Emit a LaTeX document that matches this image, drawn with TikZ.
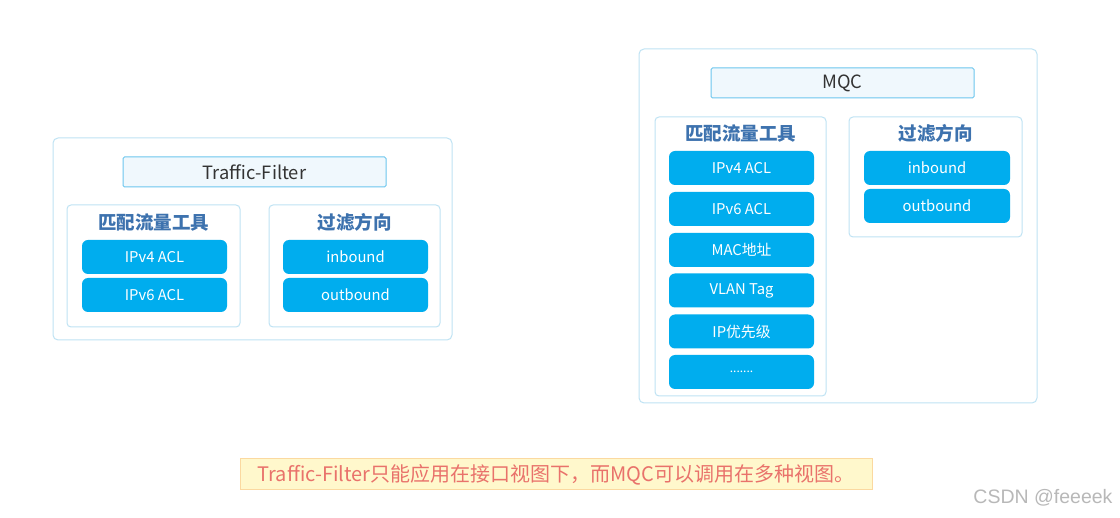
\documentclass[tikz,border=0pt]{standalone}
\usepackage{fontspec}
\setmainfont{Noto Sans CJK SC}
\newfontfamily\wmfont{Liberation Sans}
\definecolor{outerline}{HTML}{BFE3F4}
\definecolor{titlefill}{HTML}{F0F8FD}
\definecolor{titleline}{HTML}{6CC6EE}
\definecolor{bluebox}{HTML}{00ADEE}
\definecolor{headblue}{HTML}{3D72AE}
\definecolor{notefill}{HTML}{FFF8CC}
\definecolor{noteline}{HTML}{FBD9A0}
\definecolor{notetext}{HTML}{E9726B}
\tikzset{
  outerbox/.style={draw=outerline, line width=1pt, rounded corners=5pt, fill=white},
  titlebox/.style={draw=titleline, line width=1pt, rounded corners=1.5pt, fill=titlefill, font=\fontsize{18.3}{20}\selectfont, text=black!80},
  groupbox/.style={draw=outerline, line width=1pt, rounded corners=4pt},
  headtext/.style={text=headblue, font=\bfseries\fontsize{18.5}{20}\selectfont},
  item/.style={fill=bluebox, rounded corners=6pt, text=white, font=\fontsize{14.8}{16}\selectfont},
  notebox/.style={draw=noteline, fill=notefill, line width=1pt, text=notetext, font=\fontsize{20}{22}\selectfont},
}
\begin{document}
\begin{tikzpicture}[x=1pt,y=-1pt]
\useasboundingbox[fill=white] (0,0) rectangle (1120,518);
% Left panel
\draw[outerbox] (53,138) rectangle (452,340);
\node[titlebox, minimum width=263pt, minimum height=30pt] (tf) at (254.5,172) {Traffic-Filter};
\draw[groupbox] (67,205) rectangle (240,327);
\draw[groupbox] (269,205) rectangle (440,327);
\node[headtext] (lh1) at (153.5,222) {匹配流量工具};
\node[headtext] (lh2) at (354.5,222) {过滤方向};
\node[item, minimum width=145pt, minimum height=34pt] (l1) at (154.5,257) {IPv4 ACL};
\node[item, minimum width=145pt, minimum height=34pt] (l2) at (154.5,295) {IPv6 ACL};
\node[item, minimum width=145pt, minimum height=34pt] (l3) at (355.5,257) {inbound};
\node[item, minimum width=145pt, minimum height=34pt] (l4) at (355.5,295) {outbound};
% Right panel
\draw[outerbox] (639,49) rectangle (1037,403);
\node[titlebox, minimum width=263pt, minimum height=30pt] (mqc) at (842.5,83) {MQC};
\draw[groupbox] (655,117) rectangle (826,396);
\draw[groupbox] (849,117) rectangle (1022,237);
\node[headtext] (rh1) at (740.5,133) {匹配流量工具};
\node[headtext] (rh2) at (935.5,133) {过滤方向};
\node[item, minimum width=145pt, minimum height=34pt] (r1) at (741.5,168) {IPv4 ACL};
\node[item, minimum width=145pt, minimum height=34pt] (r2) at (741.5,209) {IPv6 ACL};
\node[item, minimum width=145pt, minimum height=34pt] (r3) at (741.5,250) {MAC地址};
\node[item, minimum width=145pt, minimum height=34pt] (r4) at (741.5,290.5) {VLAN Tag};
\node[item, minimum width=145pt, minimum height=34pt] (r5) at (741.5,331.5) {IP优先级};
\node[item, minimum width=145pt, minimum height=34pt] (r6) at (741.5,372) {\raisebox{-2pt}{\fontsize{12}{14}\selectfont .......}};
\node[item, minimum width=146pt, minimum height=34pt] (r7) at (937,168) {inbound};
\node[item, minimum width=146pt, minimum height=34pt] (r8) at (937,206) {outbound};
% Note
\node[notebox, minimum width=632pt, minimum height=31pt] (note) at (556,474.5) {Traffic-Filter只能应用在接口视图下，而MQC可以调用在多种视图。};
% Watermark
\node[text=black!28, font=\wmfont\fontsize{19.5}{22}\selectfont, anchor=east] (wm) at (1116,498) {CSDN @feeeek};
\end{tikzpicture}
\end{document}
